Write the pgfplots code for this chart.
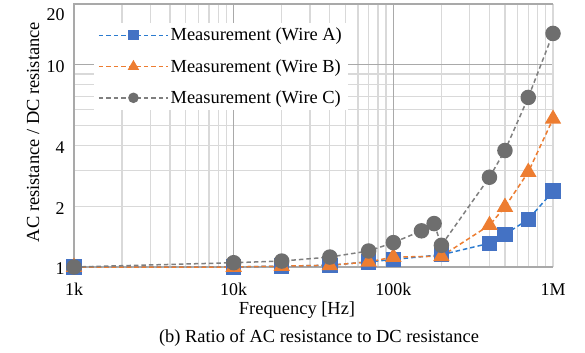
\documentclass[border=0pt]{standalone}
\usepackage{fontspec}
\setmainfont{Liberation Serif}
\usepackage{pgfplots}
\pgfplotsset{compat=1.18}

\definecolor{wireA}{HTML}{4472C4}
\definecolor{wireAline}{HTML}{2B7BCF}
\definecolor{wireB}{HTML}{ED7D31}
\definecolor{wireC}{HTML}{6E6E6E}
\definecolor{wireCline}{HTML}{7F7F7F}
\definecolor{gridlight}{HTML}{D9D9D9}
\definecolor{griddark}{HTML}{A9A9A9}

\newcommand{\chartfont}{\fontsize{18.5}{22}\selectfont}
\newcommand{\tickfont}{\fontsize{18}{21.6}\selectfont}

\begin{document}
\begin{tikzpicture}
\begin{loglogaxis}[
  scale only axis,
  width=479bp, height=263bp,
  xmin=1000, xmax=1000000,
  ymin=1, ymax=20,
  axis line style={draw=none},
  tick style={draw=none},
  xtick={1000,10000,100000,1000000},
  xticklabels={1k,10k,100k,1M},
  minor xtick={2000,3000,4000,5000,6000,7000,8000,9000,
               20000,30000,40000,50000,60000,70000,80000,90000,
               200000,300000,400000,500000,600000,700000,800000,900000},
  ytick={1,2,4,10},
  yticklabels={1,2,4,10},
  minor ytick={3,5,6,7,8,9},
  extra y ticks={20},
  extra y tick labels={20},
  extra y tick style={yticklabel style={yshift=-9bp}, grid=none},
  grid=both,
  major grid style={gridlight, line width=1.3bp},
  minor grid style={gridlight, line width=1.3bp},
  tick label style={font=\tickfont},
  xticklabel style={anchor=base, yshift=-28bp},
  yticklabel style={anchor=east, xshift=-6bp, yshift=-2bp},
  xlabel={Frequency [Hz]},
  xlabel style={font=\chartfont, at={(rel axis cs:0.4656,0)}, anchor=center, yshift=-43bp},
  ylabel={AC resistance / DC resistance},
  ylabel style={font=\chartfont, at={(rel axis cs:-0.0856,0.513)}, anchor=center},
  legend cell align=left,
  legend style={at={(rel axis cs:0.0417,0.928)}, anchor=north west,
    draw=none, fill=white, font=\chartfont,
    inner xsep=4bp, inner ysep=3bp, row sep=13bp,
    /tikz/every even column/.append style={column sep=10bp}},
  legend image code/.code={
    \draw[mark repeat=2, mark phase=2, #1,
          /tikz/every mark/.append style={scale=0.64}]
      plot coordinates {(0bp,0bp) (34.5bp,0bp) (69bp,0bp)};
  },
  clip=false,
]
% darker major grid lines and plot-area border
\draw[griddark, line width=1.3bp] (axis cs:10000,1) -- (axis cs:10000,20);
\draw[griddark, line width=1.3bp] (axis cs:100000,1) -- (axis cs:100000,20);
\draw[griddark, line width=1.3bp] (axis cs:1000,10) -- (axis cs:1000000,10);
\draw[gridlight, line width=1.3bp] (axis cs:1000000,1) -- (axis cs:1000000,20);
\draw[griddark, line width=1.5bp] (axis cs:1000000,20) -- (axis cs:1000,20) -- (axis cs:1000,1) -- (axis cs:1000000,1);
\coordinate (SW) at (rel axis cs:0,0);
\coordinate (NE) at (rel axis cs:1,1);

\addplot[wireAline, line width=1.5bp, dash pattern=on 4.5bp off 3bp,
  mark=square*, mark size=7bp, mark options={solid, fill=wireA, draw=wireA}]
  coordinates {
  (1000,1.00) (10000,1.00) (20000,1.01) (40000,1.02) (70000,1.06)
  (100000,1.09) (200000,1.15) (400000,1.31) (500000,1.45)
  (700000,1.72) (1000000,2.37)};
\addlegendentry{Measurement (Wire A)}

\addplot[wireB, line width=1.5bp, dash pattern=on 4.5bp off 3bp,
  mark=triangle*, mark size=8bp, mark options={solid, fill=wireB, draw=wireB}]
  coordinates {
  (1000,1.00) (10000,1.00) (20000,1.01) (40000,1.02) (70000,1.06)
  (100000,1.12) (200000,1.13) (400000,1.61) (500000,1.98)
  (700000,2.95) (1000000,5.4)};
\addlegendentry{Measurement (Wire B)}

\addplot[wireCline, line width=1.5bp, dash pattern=on 4.5bp off 3bp,
  mark=*, mark size=7bp, mark options={solid, fill=wireC, draw=wireC}]
  coordinates {
  (1000,1.00) (10000,1.05) (20000,1.07) (40000,1.12) (70000,1.20)
  (100000,1.32) (150000,1.51) (180000,1.64) (200000,1.28)
  (400000,2.78) (500000,3.77) (700000,6.9) (1000000,14.3)};
\addlegendentry{Measurement (Wire C)}
\end{loglogaxis}
\node[font=\chartfont, anchor=center] at ([xshift=245bp, yshift=-71bp]SW)
  {(b) Ratio of AC resistance to DC resistance};
\pgfresetboundingbox
\path ([xshift=-74bp, yshift=-86bp]SW) rectangle ([xshift=32bp, yshift=4bp]NE);
\end{tikzpicture}
\end{document}
